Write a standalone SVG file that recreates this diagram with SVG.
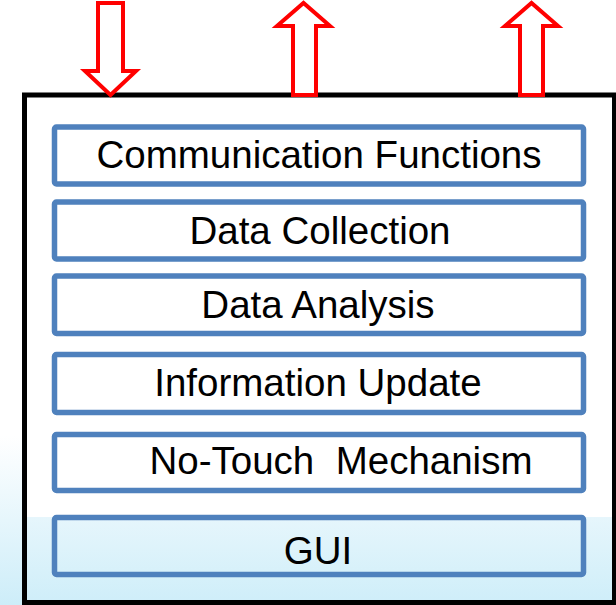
<svg xmlns="http://www.w3.org/2000/svg" width="616" height="605" viewBox="0 0 616 605">
<defs>
<linearGradient id="bgOut" x1="0" y1="0" x2="0" y2="605" gradientUnits="userSpaceOnUse">
<stop offset="0.72" stop-color="#ffffff"/>
<stop offset="1" stop-color="#cdedf9"/>
</linearGradient>
<linearGradient id="bgIn" x1="0" y1="517" x2="0" y2="602" gradientUnits="userSpaceOnUse">
<stop offset="0" stop-color="#e6f6fc"/>
<stop offset="1" stop-color="#cfeef9"/>
</linearGradient>
<style>
.layer{fill:none;stroke:#4F81BD;stroke-width:5.5;}
.lbl{font-family:"Liberation Sans",Arial,sans-serif;font-size:38.5px;fill:#000;text-anchor:middle;white-space:pre;}
.arrow{fill:#ffffff;stroke:#FF0000;stroke-width:4;stroke-linejoin:miter;stroke-miterlimit:10;}
.frame{fill:none;stroke:#000;stroke-width:5;}
</style>
</defs>
<rect x="0" y="0" width="616" height="605" fill="url(#bgOut)"/>
<rect x="24.5" y="95" width="592" height="422" fill="#ffffff"/>
<rect x="24.5" y="517" width="592" height="85.5" fill="url(#bgIn)"/>
<g id="system">
<rect class="frame" x="24.5" y="95" width="590" height="507.5"/>
</g>
<g id="communication-functions">
<rect class="layer" x="54.5" y="127" width="529" height="57" rx="2"/>
<text class="lbl" x="319" y="168">Communication Functions</text>
</g>
<g id="data-collection">
<rect class="layer" x="54.5" y="202" width="529" height="57" rx="2"/>
<text class="lbl" x="320" y="244">Data Collection</text>
</g>
<g id="data-analysis">
<rect class="layer" x="54.5" y="276" width="529" height="57.5" rx="2"/>
<text class="lbl" x="318" y="318">Data Analysis</text>
</g>
<g id="information-update">
<rect class="layer" x="54.5" y="354.5" width="529" height="58" rx="2"/>
<text class="lbl" x="318" y="396">Information Update</text>
</g>
<g id="no-touch-mechanism">
<rect class="layer" x="54.5" y="434.5" width="529" height="56" rx="2"/>
<text class="lbl" x="341" y="474">No-Touch  Mechanism</text>
</g>
<g id="gui">
<rect class="layer" x="54.5" y="517.5" width="529" height="57" rx="2"/>
<text class="lbl" x="318" y="564">GUI</text>
</g>
<g id="connectors">
<path class="arrow" d="M98,3 H123 V71 H136 L110.5,95 L85,71 H98 Z"/>
<path class="arrow" d="M293,95 V26 H277 L303.5,3 L330,26 H316 V95 Z"/>
<path class="arrow" d="M520,95 V26 H505 L531.5,3 L558,26 H543 V95 Z"/>
</g>
</svg>
